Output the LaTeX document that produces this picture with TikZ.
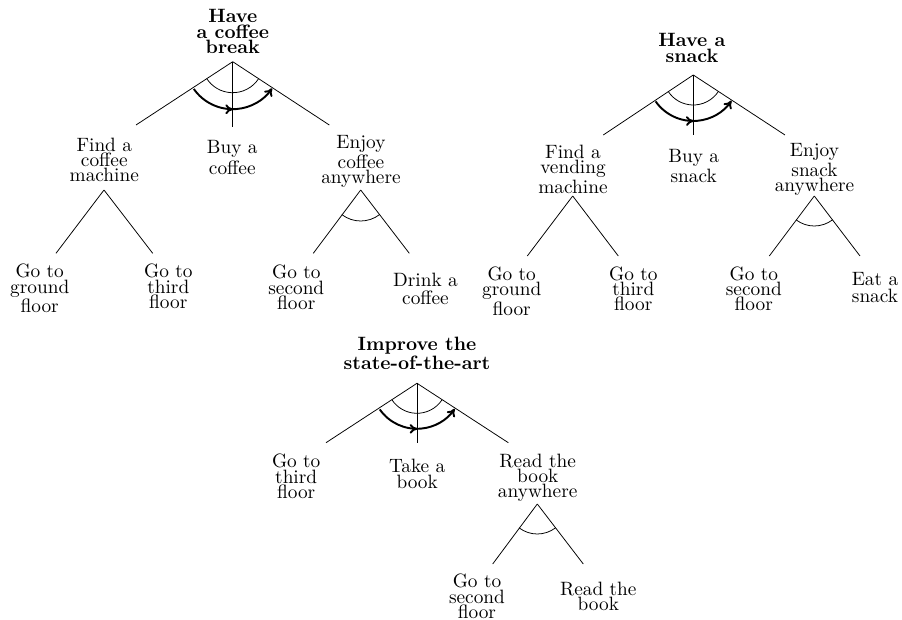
\documentclass[tikz,border=0pt]{standalone}
\usetikzlibrary{decorations.markings,arrows.meta}
\begin{document}
\begin{tikzpicture}[x=0.518pt,y=-0.518pt,
  lbl/.style={anchor=north,inner sep=0pt,align=center,font={\fontsize{10}{7.8}\selectfont}},
  ttl/.style={anchor=north,inner sep=0pt,align=center,font={\bfseries\fontsize{10}{7.9}\selectfont}},
  branch/.style={line width=0.4pt},
  andarc/.style={line width=0.4pt},
  seqarrow/.style={line width=1pt,-{To[length=4pt,width=5pt]},
    postaction={decorate,decoration={markings,mark=at position 0.5 with {\arrow{To[length=4pt,width=5pt]}}}}}]
\useasboundingbox (0,0) rectangle (902,620);

% ---------- Tree 1 ----------
\node[ttl] (t1) at (232.8,9.3) {Have\\a coffee\\break};
\coordinate (a1) at (232.7,61.7);
\coordinate (a1l) at (136,125);
\coordinate (a1m) at (232.7,127);
\coordinate (a1r) at (329.3,125);
\draw[branch] (a1) -- (a1l);
\draw[branch] (a1) -- (a1m);
\draw[branch] (a1) -- (a1r);
\draw[andarc] (a1) ++(33:31) arc[start angle=33,end angle=147,radius=31];
\draw[seqarrow] (a1) ++(145:47.5) arc[start angle=145,end angle=34,radius=47.5];

\node[lbl] (c1a) at (104.3,137.3) {Find a\\coffee\\machine};
\node[lbl] (c1b) at (232.3,140) {Buy a\\[1pt]coffee};
\node[lbl] (c1c) at (361,135) {Enjoy\\coffee\\anywhere};

\coordinate (s1a) at (104,190);
\coordinate (s1al) at (56,253.3);
\coordinate (s1ar) at (152.7,253.3);
\draw[branch] (s1a) -- (s1al);
\draw[branch] (s1a) -- (s1ar);

\coordinate (s1c) at (360.7,190);
\coordinate (s1cl) at (313.3,253.3);
\coordinate (s1cr) at (409.3,253.3);
\draw[branch] (s1c) -- (s1cl);
\draw[branch] (s1c) -- (s1cr);
\draw[andarc] (s1c) ++(52.5:31) arc[start angle=52.5,end angle=127.5,radius=31];

\node[lbl] (g1a) at (39.7,264) {Go to\\ground\\[0pt]floor};
\node[lbl] (g1b) at (168.3,264) {Go to\\third\\floor};
\node[lbl] (g1c) at (296.3,265) {Go to\\second\\floor};
\node[lbl] (g1d) at (425.5,272.5) {Drink a\\[1.5pt]coffee};

% ---------- Tree 2 ----------
\node[ttl] (t2) at (692,33.3) {Have a\\snack};
\coordinate (a2) at (693.3,75);
\coordinate (a2l) at (603.3,135);
\coordinate (a2m) at (693.3,135);
\coordinate (a2r) at (785,135);
\draw[branch] (a2) -- (a2l);
\draw[branch] (a2) -- (a2m);
\draw[branch] (a2) -- (a2r);
\draw[andarc] (a2) ++(33:30) arc[start angle=33,end angle=147,radius=30];
\draw[seqarrow] (a2) ++(145:46) arc[start angle=145,end angle=34,radius=46];

\node[lbl] (c2a) at (573,145) {Find a\\vending\\machine};
\node[lbl] (c2b) at (693.7,149.3) {Buy a\\[0pt]snack};
\node[lbl] (c2c) at (814.5,143.3) {Enjoy\\snack\\anywhere};

\coordinate (s2a) at (572.7,196);
\coordinate (s2al) at (527.3,256);
\coordinate (s2ar) at (618.3,256);
\draw[branch] (s2a) -- (s2al);
\draw[branch] (s2a) -- (s2ar);

\coordinate (s2c) at (814.3,196);
\coordinate (s2cl) at (769.3,256);
\coordinate (s2cr) at (860,256);
\draw[branch] (s2c) -- (s2cl);
\draw[branch] (s2c) -- (s2cr);
\draw[andarc] (s2c) ++(52.5:30) arc[start angle=52.5,end angle=127.5,radius=30];

\node[lbl] (g2a) at (511.7,266.7) {Go to\\ground\\[0pt]floor};
\node[lbl] (g2b) at (633.3,266.7) {Go to\\third\\floor};
\node[lbl] (g2c) at (753.8,266.7) {Go to\\second\\floor};
\node[lbl] (g2d) at (875,272.3) {Eat a\\[1pt]snack};

% ---------- Tree 3 ----------
\node[ttl] (t3) at (417,336.7) {Improve the\\state-of-the-art};
\coordinate (a3) at (417,383.3);
\coordinate (a3l) at (326,442.7);
\coordinate (a3m) at (417,442.7);
\coordinate (a3r) at (508.3,442.7);
\draw[branch] (a3) -- (a3l);
\draw[branch] (a3) -- (a3m);
\draw[branch] (a3) -- (a3r);
\draw[andarc] (a3) ++(33:30) arc[start angle=33,end angle=147,radius=30];
\draw[seqarrow] (a3) ++(145:45.5) arc[start angle=145,end angle=34,radius=45.5];

\node[lbl] (c3a) at (296.2,454) {Go to\\third\\floor};
\node[lbl] (c3b) at (417.2,458.3) {Take a\\[0.7pt]book};
\node[lbl] (c3c) at (537.7,454) {Read the\\book\\anywhere};

\coordinate (s3c) at (537.3,504);
\coordinate (s3cl) at (492.7,564);
\coordinate (s3cr) at (583.3,564);
\draw[branch] (s3c) -- (s3cl);
\draw[branch] (s3c) -- (s3cr);
\draw[andarc] (s3c) ++(52.5:30) arc[start angle=52.5,end angle=127.5,radius=30];

\node[lbl] (g3a) at (477,574) {Go to\\second\\floor};
\node[lbl] (g3b) at (598.3,581.7) {Read the\\book};
\end{tikzpicture}
\end{document}
